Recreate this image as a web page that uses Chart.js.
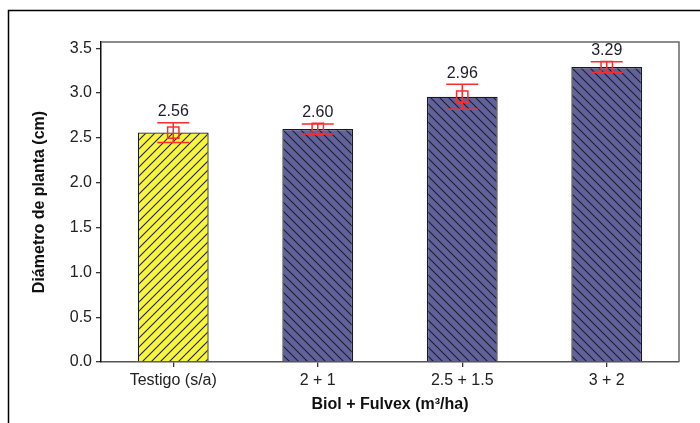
<!DOCTYPE html>
<html>
<head>
<meta charset="utf-8">
<script src="https://cdn.jsdelivr.net/npm/chart.js@4"></script>
<style>
  body { margin: 0; background: #fff; }
  canvas { display: block; }
</style>
</head>
<body>
<canvas id="chart" width="700" height="423"></canvas>
<script>
// ================= DATA =================
const categories = ["Testigo (s/a)", "2 + 1", "2.5 + 1.5", "3 + 2"];
const diameters = [2.56, 2.60, 2.96, 3.29];
const errors = [0.11, 0.055, 0.14, 0.06];
const valueLabels = ["2.56", "2.60", "2.96", "3.29"];
const yTicks = [0, 0.5, 1.0, 1.5, 2.0, 2.5, 3.0, 3.5];

// ================= HATCH PATTERNS =================
function hatch(bg, line, dir) {
  const s = 9;
  const c = document.createElement("canvas");
  c.width = s; c.height = s;
  const g = c.getContext("2d");
  g.fillStyle = bg;
  g.fillRect(0, 0, s, s);
  g.strokeStyle = line;
  g.lineWidth = 1.1;
  g.beginPath();
  if (dir === "/") {
    g.moveTo(0, s); g.lineTo(s, 0);
    g.moveTo(-1, 1); g.lineTo(1, -1);
    g.moveTo(s - 1, s + 1); g.lineTo(s + 1, s - 1);
  } else {
    g.moveTo(0, 0); g.lineTo(s, s);
    g.moveTo(-1, s - 1); g.lineTo(1, s + 1);
    g.moveTo(s - 1, -1); g.lineTo(s + 1, 1);
  }
  g.stroke();
  return g.createPattern(c, "repeat");
}

const yellowHatch = hatch("#f7f53e", "#222", "/");
const blueHatch = hatch("#62629a", "#1e1e30", "\\");

// ================= PLUGINS =================
const frame = {
  id: "frame",
  beforeDraw(chart) {
    const ctx = chart.ctx;
    ctx.save();
    ctx.fillStyle = "#fff";
    ctx.fillRect(0, 0, chart.width, chart.height);
    ctx.restore();
  },
  afterDraw(chart) {
    const ctx = chart.ctx;
    const a = chart.chartArea;
    ctx.save();
    // outer figure frame
    ctx.strokeStyle = "#000";
    ctx.lineWidth = 1.5;
    ctx.beginPath();
    ctx.moveTo(8.5, chart.height);
    ctx.lineTo(8.5, 10.5);
    ctx.lineTo(chart.width, 10.5);
    ctx.stroke();
    // top and right edge of the plot box
    ctx.strokeStyle = "#666";
    ctx.beginPath();
    ctx.moveTo(a.left, a.top);
    ctx.lineTo(a.right, a.top);
    ctx.lineTo(a.right, a.bottom);
    ctx.stroke();
    ctx.restore();
  }
};

const errorBars = {
  id: "errorBars",
  afterDatasetsDraw(chart) {
    const ctx = chart.ctx;
    const x = chart.scales.x;
    const y = chart.scales.y;
    ctx.save();
    ctx.strokeStyle = "#ff2a2a";
    ctx.lineWidth = 1.5;
    diameters.forEach((v, i) => {
      const px = x.getPixelForValue(i);
      const top = y.getPixelForValue(v + errors[i]);
      const bot = y.getPixelForValue(v - errors[i]);
      ctx.beginPath();
      ctx.moveTo(px, top); ctx.lineTo(px, bot);
      ctx.moveTo(px - 16, top); ctx.lineTo(px + 16, top);
      ctx.moveTo(px - 16, bot); ctx.lineTo(px + 16, bot);
      ctx.stroke();
      ctx.fillStyle = "#1c1c2c";
      ctx.font = "16px 'Liberation Sans', Arial, sans-serif";
      ctx.textAlign = "center";
      ctx.textBaseline = "middle";
      ctx.fillText(valueLabels[i], px, top - 11);
    });
    ctx.restore();
  }
};

// ================= CHART =================
new Chart(document.getElementById("chart"), {
  type: "bar",
  data: {
    labels: categories,
    datasets: [
      {
        type: "line",
        data: diameters,
        showLine: false,
        pointStyle: "rect",
        pointRadius: 8,
        pointBorderColor: "#ff2a2a",
        pointBackgroundColor: "rgba(0,0,0,0)",
        pointBorderWidth: 1.5,
        order: 1
      },
      {
        data: diameters,
        backgroundColor: [yellowHatch, blueHatch, blueHatch, blueHatch],
        borderColor: "#1a1a1a",
        borderWidth: 1.3,
        barPercentage: 0.49,
        categoryPercentage: 1,
        order: 2
      }
    ]
  },
  options: {
    responsive: false,
    animation: false,
    devicePixelRatio: 1,
    layout: { padding: { left: 27, right: 21, top: 42, bottom: 2 } },
    plugins: {
      legend: { display: false },
      tooltip: { enabled: false }
    },
    scales: {
      x: {
        afterFit: (s) => { s.height = 59; },
        grid: { offset: false, drawOnChartArea: false, tickLength: 5, color: "#333", lineWidth: 1.3 },
        border: { color: "#555", width: 1.5 },
        ticks: {
          color: "#222",
          padding: 4,
          font: { family: "'Liberation Sans', Arial, sans-serif", size: 16 }
        },
        title: {
          display: true,
          text: "Biol + Fulvex (m\u00b3/ha)",
          color: "#111",
          padding: { top: 0, bottom: 7 },
          font: { family: "'Liberation Sans', Arial, sans-serif", size: 16, weight: "bold" }
        }
      },
      y: {
        min: 0,
        max: 3.57,
        afterFit: (s) => { s.width = 74; },
        afterBuildTicks: (s) => { s.ticks = yTicks.map(v => ({ value: v })); },
        grid: { drawOnChartArea: false, tickLength: 5, color: "#333", lineWidth: 1.3 },
        border: { color: "#111", width: 1.5 },
        ticks: {
          color: "#222",
          padding: 4,
          callback: (v) => Number(v).toFixed(1),
          font: { family: "'Liberation Sans', Arial, sans-serif", size: 16 }
        },
        title: {
          display: true,
          text: "Diámetro de planta (cm)",
          color: "#111",
          padding: { top: 3, bottom: 0 },
          font: { family: "'Liberation Sans', Arial, sans-serif", size: 16, weight: "bold" }
        }
      }
    }
  },
  plugins: [frame, errorBars]
});
</script>
</body>
</html>
